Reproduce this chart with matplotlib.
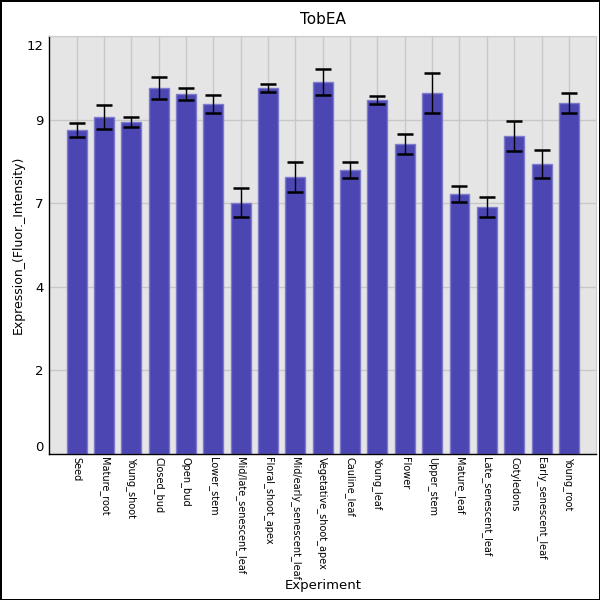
import matplotlib
matplotlib.use("Agg")
import matplotlib.pyplot as plt
from matplotlib.ticker import FuncFormatter, FixedLocator
from matplotlib.transforms import ScaledTranslation

categories = ["Seed", "Mature_root", "Young_shoot", "Closed_bud", "Open_bud",
              "Lower_stem", "Mid/late_senescent_leaf", "Floral_shoot_apex",
              "Mid/early_senescent_leaf", "Vegetative_shoot_apex", "Cauline_leaf",
              "Young_leaf", "Flower", "Upper_stem", "Mature_leaf",
              "Late_senescent_leaf", "Cotyledons", "Early_senescent_leaf", "Young_root"]
values = [9.30, 9.68, 9.53, 10.51, 10.34, 10.05, 7.21, 10.51, 7.95, 10.68,
          8.15, 10.16, 8.90, 10.36, 7.46, 7.09, 9.13, 8.33, 10.08]
errors = [0.21, 0.34, 0.14, 0.32, 0.17, 0.25, 0.42, 0.12, 0.43, 0.36,
          0.24, 0.11, 0.30, 0.58, 0.22, 0.28, 0.42, 0.40, 0.29]
yticks = [0, 2.4, 4.8, 7.2, 9.6, 12]

fig = plt.figure(figsize=(6, 6), dpi=100)
fig.patch.set_facecolor("white")
fig.patch.set_edgecolor("black")
fig.patch.set_linewidth(2)

ax = fig.add_axes([0.0822, 0.2433, 0.9115, 0.6967])
ax.set_facecolor("#e5e5e5")
x = list(range(len(categories)))
ax.set_axisbelow(True)
ax.grid(True, color="#c8c8c8", linewidth=1)
ax.bar(x, values, width=0.73, color="#4b46b2", edgecolor="#7f7bcc", linewidth=1)
ax.errorbar(x, values, yerr=errors, fmt="none", ecolor="black", elinewidth=1,
            capsize=6, capthick=1.8)
ax.set_xlim(-1, len(categories))
ax.set_ylim(0, 12)
ax.yaxis.set_major_locator(FixedLocator(yticks))
ax.yaxis.set_major_formatter(FuncFormatter(lambda v, p: str(int(v + 1e-9))))
ax.set_xticks(x)
ax.set_xticklabels(categories, rotation=270, fontsize=7, va="top", ha="center")
ax.tick_params(axis="both", length=0)
ax.tick_params(axis="y", labelsize=9.5, pad=4)
ax.tick_params(axis="x", pad=2)
fig.canvas.draw()
ylbls = ax.get_yticklabels()
ylbls[0].set_va("bottom")
ylbls[-1].set_va("top")
ylbls[-1].set_transform(ylbls[-1].get_transform()
                        + ScaledTranslation(0, -4 / 100, fig.dpi_scale_trans))

for s in ["top", "right"]:
    ax.spines[s].set_color("#cccccc")
for s in ["left", "bottom"]:
    ax.spines[s].set_color("black")
    ax.spines[s].set_linewidth(1)

ax.set_title("TobEA", fontsize=11, pad=9)
ax.set_ylabel("Expression_(Fluor._Intensity)", fontsize=9)
ax.yaxis.set_label_coords(-0.045, 0.5)
ax.set_xlabel("Experiment", fontsize=9.5)
ax.xaxis.set_label_coords(0.5, -0.3)

fig.savefig("out.png", dpi=100, edgecolor=fig.get_edgecolor())
